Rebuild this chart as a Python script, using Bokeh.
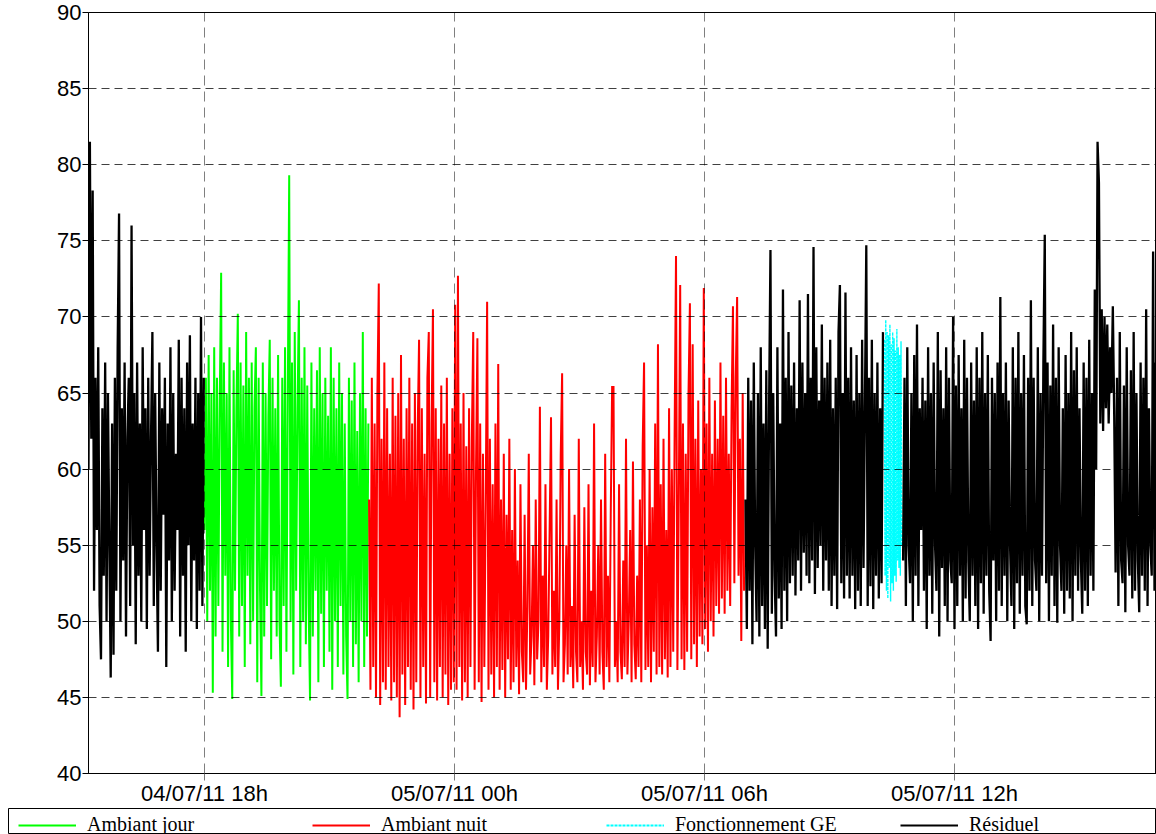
from datetime import datetime, timedelta
from bokeh.plotting import figure
from bokeh.layouts import column
from bokeh.models import Range1d, FixedTicker, Legend, LegendItem
from bokeh.embed import file_html
from bokeh.resources import INLINE

# ---------------- data (dB values, 2-min samples) ----------------
RESIDUEL_1_START = datetime(2011, 7, 4, 15, 13)
RESIDUEL_1 = [60, 81.5, 62, 78.3, 52, 66, 56, 68, 51, 47.5, 64, 53, 67, 50,
              65, 55, 46.3, 63, 47.8, 66, 52, 68, 76.8, 50, 64, 54, 67, 49,
              62, 66, 51, 76, 55, 65, 48.5, 67, 53, 63, 50, 68, 56, 64,
              49.5, 66, 53, 62, 69, 51, 65, 55, 48, 67, 52, 64, 57, 66,
              47, 63, 54, 68, 50, 65, 52, 61, 56, 68.5, 49, 66, 53, 64,
              48, 67, 55, 68.8, 50, 63, 54, 66, 49.5, 65, 52, 70, 51, 66]

JOUR_START = datetime(2011, 7, 4, 18, 0)
JOUR = [56, 66, 50, 67.5, 52, 65, 45.3, 68, 49, 66, 51, 64.5, 72.9, 48,
        67, 53, 65, 47, 68, 50, 44.9, 66.5, 52, 64, 70.2, 49, 67, 51,
        65.5, 47, 69, 53, 66, 48.5, 67, 50, 64, 68, 46, 66, 52, 45.1,
        67, 49, 65, 51, 63.5, 68.5, 47.5, 66, 52, 64, 49, 67.5, 50, 45.7,
        66, 51, 68, 48, 65, 79.3, 50, 67, 46.5, 69, 52, 64, 71.1, 47,
        66, 50, 68, 48.5, 65.5, 51, 44.8, 67, 49, 64, 52, 66.5, 46, 68,
        50.5, 65, 47, 66, 52, 63.5, 48, 68, 45.5, 66, 50, 64, 47, 67,
        51, 65, 46.5, 63, 49, 44.9, 66, 50, 64.5, 47, 67, 48.5, 62.5, 46,
        65, 50, 69, 47, 64, 49, 63]

NUIT_START = datetime(2011, 7, 4, 21, 57)
NUIT = [58, 45.5, 66, 47, 63, 45, 65, 72.2, 44.5, 62, 46, 67, 45.5, 64, 47,
        61, 44.8, 66, 46, 63.5, 45, 65, 43.7, 67.5, 46.5, 62, 44.5, 64, 47, 66,
        45.5, 63, 44.2, 65, 46, 62.5, 68.5, 45, 64, 47, 61, 44.6, 66, 69, 45,
        63, 70.5, 46, 64, 44.8, 62, 47, 65.5, 45, 63, 46.5, 66, 44.5, 61, 45.5,
        64, 46, 70.8, 45.5, 72.7, 47, 63, 44.8, 65, 46, 61.5, 45, 64, 47, 62,
        69, 45.5, 60, 68.6, 46, 63, 44.7, 61, 47, 58, 71, 45.5, 62, 46.5, 59,
        45, 63, 47, 66.9, 45.5, 58, 46.8, 61, 45, 57, 47.5, 62, 45.5, 56, 46,
        60, 47, 54, 45.2, 59, 48, 46, 57, 45.5, 51, 61, 46.5, 49, 55, 45.8,
        58, 47.5, 50, 64.1, 46, 53, 47, 59, 45.5, 49, 56, 63.4, 46.5, 52, 47,
        58, 45.5, 50, 61, 66.3, 46, 48.5, 55, 46.5, 60, 47, 51, 45.6, 57, 48,
        46, 62, 47, 50, 45.5, 57.5, 48, 46.5, 59, 45.8, 52, 47, 63, 46, 49,
        55, 46.5, 58, 48, 45.5, 61, 47, 53, 46, 57, 65.4, 65.4, 47, 50, 46,
        59, 48, 46.2, 54, 47, 62, 46.5, 50, 56, 46, 60.5, 48.5, 46.2, 53, 47,
        58, 46, 61.5, 67, 46.8, 55, 47, 60, 46, 57.5, 48, 63, 46.5, 68.2, 47,
        59, 46.5, 62, 47.5, 56, 46.3, 64, 47, 60, 48, 62.5, 74, 46.8, 58, 72.1,
        47.5, 63, 46.8, 61, 48, 65, 70.9, 47.5, 68.2, 48.5, 62, 47, 64.5, 49, 60,
        48.5, 71.9, 49.5, 63, 48, 66, 50, 61, 49, 64.5, 51, 62, 50.5, 67, 51.5,
        63.5, 50.5, 66, 52, 61, 51, 64, 70.7, 52.5, 66, 71.3, 53, 62, 48.7, 65,
        52]

RESIDUEL_2_START = datetime(2011, 7, 5, 6, 59)
RESIDUEL_2 = [58, 49.5, 66, 52, 64.5, 48.5, 67, 55, 50, 65, 49, 68, 51, 63, 49.5,
              66.5, 48.2, 64, 74.4, 50.5, 65, 53, 49, 68, 51.5, 63, 49.5, 71.8, 52, 66,
              50, 69, 52.5, 65.5, 53, 67, 51.7, 64, 54, 71.1, 52, 67, 54.5, 65, 53,
              71.5, 52.5, 66, 54, 74.6, 51.8, 68, 53.5, 64.5, 55, 69.5, 52, 66, 54, 67,
              52, 68.5, 51, 64, 53, 66, 50.8, 69, 72.1, 52.5, 65, 51.5, 71.6, 53, 66,
              51.5, 68, 53, 64.5, 50.8, 67.5, 52, 65, 51, 68.5, 53.5, 64, 74.7, 51, 66,
              52.3, 68.5, 50.8, 65, 53, 67, 51.5, 64, 52.5, 69]

GE_START = datetime(2011, 7, 5, 10, 19)
GE = [68.5, 53.0, 69.8, 52.0, 69.0, 51.5, 68.8, 53.5, 69.5, 51.3,
      68.2, 52.5, 69.0, 52.0, 68.6, 53.0, 67.8, 52.6, 69.2, 54.0,
      68.0, 53.5, 67.5, 53.0, 68.4, 55.0]

RESIDUEL_3_START = datetime(2011, 7, 5, 10, 46)
RESIDUEL_3 = [54, 66, 51, 68, 55, 52.5, 65, 50, 67.5, 53, 69.5, 51, 64, 56, 66,
              52, 64.5, 49.5, 68, 53, 65, 50.5, 67, 55, 52, 69, 49, 66.5, 53.5, 64,
              51, 68, 50, 66, 54, 52.5, 70, 49.5, 65.5, 51, 67.5, 53, 64, 50, 68.5,
              51.5, 66, 54, 50, 67, 53, 64.5, 51, 68, 49.5, 66, 52.5, 69, 50.5, 65,
              53, 67.5, 52, 48.7, 66, 54, 65, 50, 67, 52, 71.3, 51, 65, 53, 67,
              50, 64.5, 55, 51, 68, 49.5, 66, 52.5, 69, 50.5, 65, 53, 67.5, 51, 49.8,
              66, 52, 71.1, 51, 66, 54, 52, 68, 50, 65, 53, 67, 75.4, 52.5, 67,
              50, 65.5, 53, 69.5, 51, 66, 49.9, 68, 55, 52, 64, 50.5, 67.5, 52, 65,
              51.5, 69, 50, 66.5, 53, 68, 52, 64, 54, 50.5, 67, 52, 66, 51, 68.5,
              53, 65, 52, 71.8, 60, 81.5, 78.8, 63, 70.5, 62.5, 70, 64, 69.5, 63, 68,
              65, 70.7, 63.5, 53.2, 66, 51, 69, 54, 52.5, 65.5, 50.6, 68, 55, 53, 66.5,
              51.5, 69, 52, 65, 54, 50.6, 67, 53, 66, 52, 70.5, 51, 64, 55, 53,
              74.3, 52, 67, 55]

STEP_MIN = 2      # sampling step of the ambient / residual series (minutes)
GE_STEP_MIN = 1   # sampling step of the generator series (minutes)

Y_TICKS = [40, 45, 50, 55, 60, 65, 70, 75, 80, 85, 90]
X_TICKS = [datetime(2011, 7, 4, 18), datetime(2011, 7, 5, 0),
           datetime(2011, 7, 5, 6), datetime(2011, 7, 5, 12)]
X_TICK_LABELS = ["04/07/11 18h", "05/07/11 00h", "05/07/11 06h", "05/07/11 12h"]
X_START = datetime(2011, 7, 4, 15, 13)
X_END = datetime(2011, 7, 5, 16, 50, 53)

SERIES = ["Ambiant jour", "Ambiant nuit", "Fonctionnement GE", "Résiduel"]
COLORS = ["#00FF00", "#FF0000", "#00FFFF", "black"]
DASHES = ["solid", "solid", "3 1", "solid"]


def times(start, n, step):
    return [start + timedelta(minutes=step * i) for i in range(n)]


def ms(dt):
    return (dt - datetime(1970, 1, 1)).total_seconds() * 1000.0


TICK_FONT = "Liberation Sans"
LEG_FONT = "Liberation Serif"

p = figure(width=1156, height=808, x_axis_type="datetime",
           x_range=Range1d(X_START, X_END), y_range=Range1d(40, 90),
           output_backend="svg", toolbar_location=None,
           min_border_left=88, min_border_right=0, min_border_top=12,
           min_border_bottom=33)
p.background_fill_color = "white"
p.border_fill_color = "white"
p.outline_line_color = "black"
p.outline_line_width = 1

W_BLACK = 2.3
W_COL = 2.0
series_defs = [
    (JOUR_START, JOUR, STEP_MIN, 0, W_COL),
    (NUIT_START, NUIT, STEP_MIN, 1, W_COL),
    (GE_START, GE, GE_STEP_MIN, 2, 1.4),
    (RESIDUEL_1_START, RESIDUEL_1, STEP_MIN, 3, W_BLACK),
    (RESIDUEL_2_START, RESIDUEL_2, STEP_MIN, 3, W_BLACK),
    (RESIDUEL_3_START, RESIDUEL_3, STEP_MIN, 3, W_BLACK),
]
for start, vals, step, k, w in series_defs:
    p.line(times(start, len(vals), step), vals, line_color=COLORS[k],
           line_width=w, line_dash=DASHES[k], line_join="miter")

# axes
p.xaxis.ticker = FixedTicker(ticks=[ms(t) for t in X_TICKS])
p.xaxis.major_label_overrides = {ms(t): lab for t, lab in zip(X_TICKS, X_TICK_LABELS)}
p.xaxis.minor_tick_line_color = None
p.xaxis.major_tick_in = 0
p.xaxis.major_tick_out = 7
p.xaxis.major_tick_line_color = "#777777"
p.xaxis.axis_line_color = "black"
p.xaxis.major_label_standoff = 0
p.xaxis.major_label_text_font = TICK_FONT
p.xaxis.major_label_text_font_size = "22px"
p.xaxis.major_label_text_color = "black"

p.yaxis.ticker = FixedTicker(ticks=Y_TICKS)
p.yaxis.minor_tick_line_color = None
p.yaxis.major_tick_in = 0
p.yaxis.major_tick_out = 6
p.yaxis.major_tick_line_color = "black"
p.yaxis.axis_line_color = "black"
p.yaxis.major_label_standoff = 1
p.yaxis.major_label_text_font = TICK_FONT
p.yaxis.major_label_text_font_size = "22px"
p.yaxis.major_label_text_color = "black"

# grid (drawn over the data)
p.xgrid.grid_line_color = "black"
p.xgrid.grid_line_alpha = 0.5
p.xgrid.grid_line_dash = "10 6"
p.xgrid.level = "overlay"
p.ygrid.grid_line_color = "black"
p.ygrid.grid_line_alpha = 0.75
p.ygrid.grid_line_dash = "8 5"
p.ygrid.level = "overlay"

# legend strip under the chart (series drawn far outside its visible range,
# so that only the legend samples show)
leg = figure(width=1156, height=26, output_backend="svg", toolbar_location=None,
             x_range=Range1d(0, 1), y_range=Range1d(0, 1),
             x_axis_location=None, y_axis_location=None,
             min_border_left=8, min_border_right=0, min_border_top=0,
             min_border_bottom=0)
for fig in (p, leg):
    try:
        fig.frame_align = False
    except Exception:
        pass
leg.grid.visible = False
leg.outline_line_color = "black"
leg.background_fill_color = "white"
leg.border_fill_color = "white"
legend_src = [(JOUR_START, JOUR, STEP_MIN), (NUIT_START, NUIT, STEP_MIN),
              (GE_START, GE, GE_STEP_MIN), (RESIDUEL_1_START, RESIDUEL_1, STEP_MIN)]
items = []
for name, col, dash, (start, vals, step) in zip(SERIES, COLORS, DASHES, legend_src):
    r = leg.line([ms(t) for t in times(start, len(vals), step)], vals,
                 line_color=col, line_width=2, line_dash=dash)
    items.append(LegendItem(label=name, renderers=[r]))
legend = Legend(
    items=items, orientation="horizontal", location=(10, -2),
    glyph_width=58, glyph_height=20, label_standoff=11, label_width=225,
    label_height=20, spacing=0, padding=4, margin=0,
    border_line_color=None, background_fill_alpha=0,
    label_text_font=LEG_FONT, label_text_font_size="20px",
    label_text_color="black")
leg.add_layout(legend)

layout = column(p, leg, spacing=0)
open("out.html", "w").write(file_html(layout, INLINE))
